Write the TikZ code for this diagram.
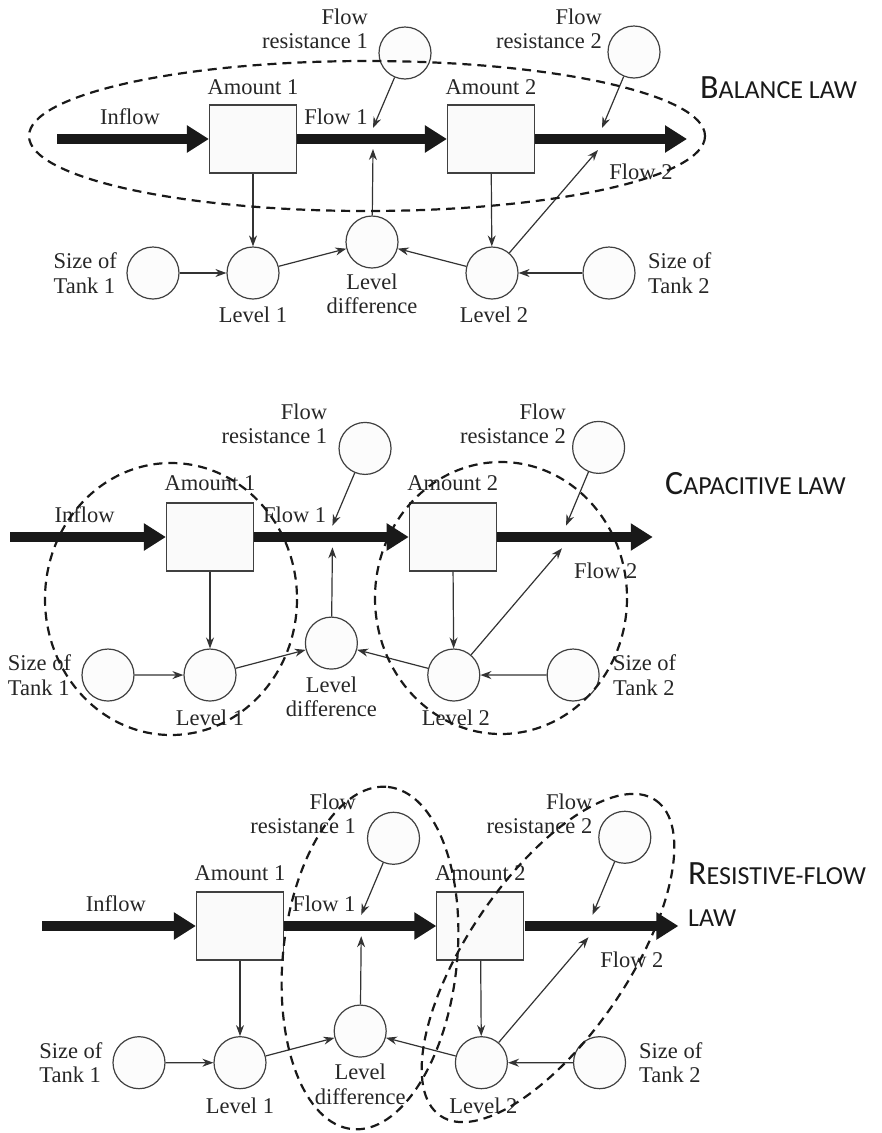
\documentclass[tikz,border=0pt]{standalone}
\usepackage{fontspec}
\setmainfont{Liberation Serif}
\newfontfamily\lawfont{Carlito}
\usetikzlibrary{arrows.meta}

\tikzset{
  stock/.style={draw=black!75, fill=black!2, line width=1.2pt, minimum width=87pt, minimum height=68pt, inner sep=0pt},
  aux/.style={circle, draw=black!75, fill=black!1, line width=1.2pt, minimum size=52pt, inner sep=0pt},
  flowpipe/.style={line width=10pt, black!90, -{Triangle[length=22pt,width=26pt]}},
  link/.style={black!80, line width=1.2pt, -{Stealth[length=11pt,width=8pt]}},
  txt/.style={font=\fontsize{22.5}{24.5}\selectfont, text=black!85, inner sep=0pt},
  grouping/.style={black!90, line width=2.2pt, dash pattern=on 9pt off 6pt},
  lawtxt/.style={font=\lawfont\fontsize{26}{32}\selectfont, text=black!90, inner sep=0pt, anchor=west}
}

\begin{document}
\begin{tikzpicture}[x=1pt, y=-1pt]
  \useasboundingbox (0,0) rectangle (882,1133);
  \foreach \px/\py/\sx/\sy/\pn in {253/139/1/1/a, 210/537/1.02/1.03/b, 240/926/1.01/1.02/c}{
    \begin{scope}[shift={(\px,\py)}, xscale=\sx, yscale=\sy, name prefix=\pn-]
      % stocks and flows
      \node[stock] (amt1) at (0,0) {};
      \node[stock] (amt2) at (238,0) {};
      \coordinate (inflow) at (-196,0);
      \coordinate (outflow) at (434,0);
      \coordinate (f1in) at (120,-11);
      \coordinate (f1out) at (120,10);
      \coordinate (f2in) at (349,-11);
      \coordinate (f2out) at (345,11);
      \draw[flowpipe] (inflow) -- (amt1);
      \draw[flowpipe] (amt1) -- (amt2);
      \draw[flowpipe] (amt2) -- (outflow);
      % auxiliaries
      \node[aux] (res1) at (152,-86) {};
      \node[aux] (res2) at (381,-87) {};
      \node[aux] (size1) at (-100,134) {};
      \node[aux] (lev1) at (0,134) {};
      \node[aux] (ldiff) at (119,103) {};
      \node[aux] (lev2) at (239,134) {};
      \node[aux] (size2) at (356,134) {};
      \draw[link] (amt1) -- (lev1);
      \draw[link] (size1) -- (lev1);
      \draw[link] (lev1) -- (ldiff);
      \draw[link] (ldiff) -- (f1out);
      \draw[link] (res1) -- (f1in);
      \draw[link] (amt2) -- (lev2);
      \draw[link] (size2) -- (lev2);
      \draw[link] (lev2) -- (ldiff);
      \draw[link] (lev2) -- (f2out);
      \draw[link] (res2) -- (f2in);
      % labels
      \node[txt] (inflowtxt) at (-123,-22) {Inflow};
      \node[txt] (amt1txt) at (0,-52) {Amount 1};
      \node[txt] (amt2txt) at (238,-52) {Amount 2};
      \node[txt] (flow1txt) at (83,-22) {Flow 1};
      \node[txt] (flow2txt) at (388,33) {Flow 2};
      \node[txt, align=right, anchor=east] (res1txt) at (115,-110) {Flow\\resistance 1};
      \node[txt, align=right, anchor=east] (res2txt) at (349,-110) {Flow\\resistance 2};
      \node[txt, align=left, anchor=east] (size1txt) at (-136,134) {Size of\\Tank 1};
      \node[txt, align=left, anchor=west] (size2txt) at (395,134) {Size of\\Tank 2};
      \node[txt] (lev1txt) at (0,176) {Level 1};
      \node[txt, align=center] (ldifftxt) at (119,155) {Level\\difference};
      \node[txt] (lev2txt) at (241,176) {Level 2};
    \end{scope}
  }
  % grouping outlines
  \draw[grouping] (367,136) ellipse [x radius=338, y radius=75];
  \draw[grouping] (171,599) ellipse [x radius=126, y radius=136];
  \draw[grouping] (501,598) ellipse [x radius=126, y radius=136];
  \draw[grouping, rotate around={84:(370,958)}] (370,958) ellipse [x radius=172, y radius=87];
  \draw[grouping, rotate around={55.7:(548,958)}] (548,958) ellipse [x radius=191, y radius=80];
  % laws
  \node[lawtxt] (balance) at (700,88) {{\fontsize{34}{40}\selectfont B}ALANCE LAW};
  \node[lawtxt] (capacitive) at (665,484) {{\fontsize{34}{40}\selectfont C}APACITIVE LAW};
  \node[lawtxt] (resistive) at (688,874) {{\fontsize{34}{40}\selectfont R}ESISTIVE-FLOW};
  \node[lawtxt] (resistivelaw) at (688,918) {LAW};
\end{tikzpicture}
\end{document}
